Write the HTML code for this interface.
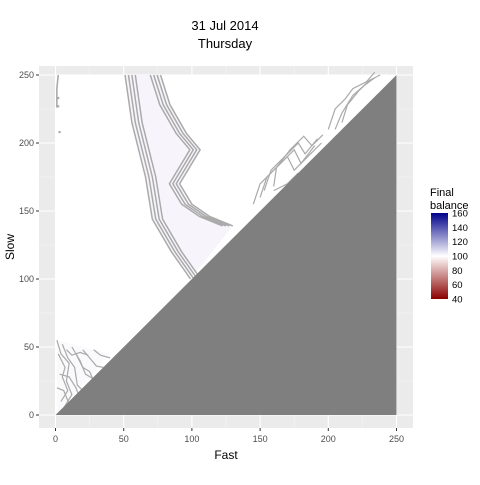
<!DOCTYPE html>
<html><head><meta charset="utf-8"><style>
body{margin:0;background:#fff;font-family:"Liberation Sans",sans-serif;}
</style></head><body>
<svg id="chart" width="480" height="480" xmlns="http://www.w3.org/2000/svg" font-family="Liberation Sans, sans-serif">
<defs>
<linearGradient id="lg" x1="0" y1="1" x2="0" y2="0">
<stop offset="0" stop-color="#8b0000"/><stop offset="0.5" stop-color="#ffffff"/><stop offset="1" stop-color="#00008b"/>
</linearGradient>
</defs>
<text x="225" y="30" font-size="13" text-anchor="middle">31 Jul 2014</text>
<text x="225" y="48" font-size="13" text-anchor="middle">Thursday</text>
<rect x="39" y="66" width="374" height="362" fill="#ebebeb"/>
<g id="grid"></g>
<g id="marks"></g>
<g id="axes"></g>
<text x="226" y="459" font-size="12" text-anchor="middle">Fast</text>
<text transform="translate(14,247) rotate(-90)" font-size="12" text-anchor="middle">Slow</text>
<g>
<text x="430" y="196" font-size="11">Final</text>
<text x="430" y="209" font-size="11">balance</text>
<rect x="431" y="213" width="17" height="86" fill="url(#lg)"/>
<g id="legend-ticks"></g>
</g>
</svg>
<script>
const xTicks=[0,50,100,150,200,250];
const yTicks=[0,50,100,150,200,250];
const legendTicks=[40,60,80,100,120,140,160];
const leftEdge=[[51,250],[56,215],[66,175],[71,144],[85,120],[99,100]];
const rightEdge=[[77,250],[84,228],[96,207],[106,195],[91,170],[100,155],[113,146],[130,139]];
const edgeOffsets=[0,2.5,5,7.5];
const lowLines=[
 [[1,55],[4,45],[10,38],[8,25],[12,15],[6,5]],
 [[5,52],[9,42],[14,35],[16,22],[20,18]],
 [[12,50],[18,40],[22,30],[27,27]],
 [[20,48],[25,42],[30,36],[35,35]],
 [[28,48],[33,44],[40,42]],
 [[3,30],[10,28],[15,20],[18,12],[12,10]],
 [[1,20],[6,18],[10,8]],
 [[2,45],[7,35],[5,28],[9,18],[4,10]],
 [[15,45],[20,35],[25,32],[28,25]],
 [[8,48],[12,44],[18,46],[24,44]]];
const diagLines=[
 [[145,155],[150,170],[160,180],[170,190],[175,180],[185,190],[195,200]],
 [[150,160],[155,175],[165,185],[175,195],[180,185],[190,198]],
 [[153,165],[158,180],[168,190],[178,200],[183,192],[192,203]],
 [[160,168],[162,182],[172,195],[182,205],[188,198],[196,206]],
 [[200,210],[205,225],[212,232],[218,240],[228,245],[234,252]],
 [[205,210],[210,222],[218,235],[226,242],[234,248]],
 [[210,215],[214,228],[222,238],[230,246],[238,250]],
 [[160,165],[170,170],[178,178]]];
const stray=[[2,233],[2,227],[3,208]];
const X=v=>55.5+v*1.364, Y=v=>415-v*1.36;
const ns="http://www.w3.org/2000/svg";
const grid=document.getElementById('grid'),marks=document.getElementById('marks'),axes=document.getElementById('axes');
function mk(t,p,a){const e=document.createElementNS(ns,t);for(const k in a)e.setAttribute(k,a[k]);p.appendChild(e);return e;}
xTicks.forEach((t,i)=>{
 const l=mk('line',grid,{x1:X(t),x2:X(t),y1:66,y2:428,stroke:'#fff','stroke-width':1.1});
 
 
 if(i<xTicks.length-1){const m=mk('line',grid,{x1:X(t+25),x2:X(t+25),y1:66,y2:428,stroke:'#f5f5f5','stroke-width':0.5});
 
 }
 const tk=mk('line',axes,{x1:X(t),x2:X(t),y1:428,y2:431,stroke:'#333'});
 
 
 const tx=mk('text',axes,{x:X(t),y:442,'font-size':9,'text-anchor':'middle',fill:'#4d4d4d'});
 tx.textContent=t;
 
 
});
yTicks.forEach((t,i)=>{
 const l=mk('line',grid,{x1:39,x2:413,y1:Y(t),y2:Y(t),stroke:'#fff','stroke-width':1.1});
 
 
 if(i<yTicks.length-1){const m=mk('line',grid,{x1:39,x2:413,y1:Y(t+25),y2:Y(t+25),stroke:'#f5f5f5','stroke-width':0.5});
 
 }
 const tk=mk('line',axes,{x1:36,x2:39,y1:Y(t),y2:Y(t),stroke:'#333'});
 
 
 const tx=mk('text',axes,{x:34,y:Y(t)+3,'font-size':9,'text-anchor':'end',fill:'#4d4d4d'});
 tx.textContent=t;
 
 
});
const up=mk('polygon',marks,{points:`${X(0)},${Y(0)} ${X(0)},${Y(250)} ${X(250)},${Y(250)}`,fill:'#fff'});


const band=leftEdge.map(p=>X(p[0])+','+Y(p[1])).concat(rightEdge.slice().reverse().map(p=>X(p[0])+','+Y(p[1]))).join(' ');
const bd=mk('polygon',marks,{points:band,fill:'#f7f5fb'});


const lowFill=mk('polygon',marks,{points:`${X(1)},${Y(55)} ${X(40)},${Y(45)} ${X(1)},${Y(1)}`,fill:'#faf9fc'});


const pathOf=(pts,dx)=>pts.map((p,i)=>(i?'L':'M')+X(p[0]+dx)+','+Y(p[1])).join(' ');
edgeOffsets.forEach(o=>{
 const a=mk('path',marks,{d:pathOf(leftEdge,o),fill:'none',stroke:'#aaa','stroke-width':1.5});
 
 
 const b=mk('path',marks,{d:pathOf(rightEdge,-o),fill:'none',stroke:'#aaa','stroke-width':1.5});
 
 
});
lowLines.concat(diagLines).forEach(ln=>{
 const a=mk('path',marks,{d:pathOf(ln,0),fill:'none',stroke:'#aaa','stroke-width':1.2});
 
 
});
const st=mk('path',marks,{d:`M${X(2)},${Y(250)} L${X(1)},${Y(240)} L${X(1)},${Y(226)}`,fill:'none',stroke:'#aaa','stroke-width':1.6});


stray.forEach(p=>{const c=mk('circle',marks,{cx:X(p[0]),cy:Y(p[1]),r:1.2,fill:'#aaa'});
 
 });
const tri=mk('polygon',marks,{points:`${X(0)},${Y(0)} ${X(250)},${Y(0)} ${X(250)},${Y(250)}`,fill:'#7f7f7f'});


const lt=document.getElementById('legend-ticks');
const LY=v=>299-(v-40)/120*86;
legendTicks.forEach(t=>{
 const tx=mk('text',lt,{x:452,y:LY(t)+3.5,'font-size':9.5,fill:'#000'});
 tx.textContent=t;
 
 
});
</script>
</body></html>
